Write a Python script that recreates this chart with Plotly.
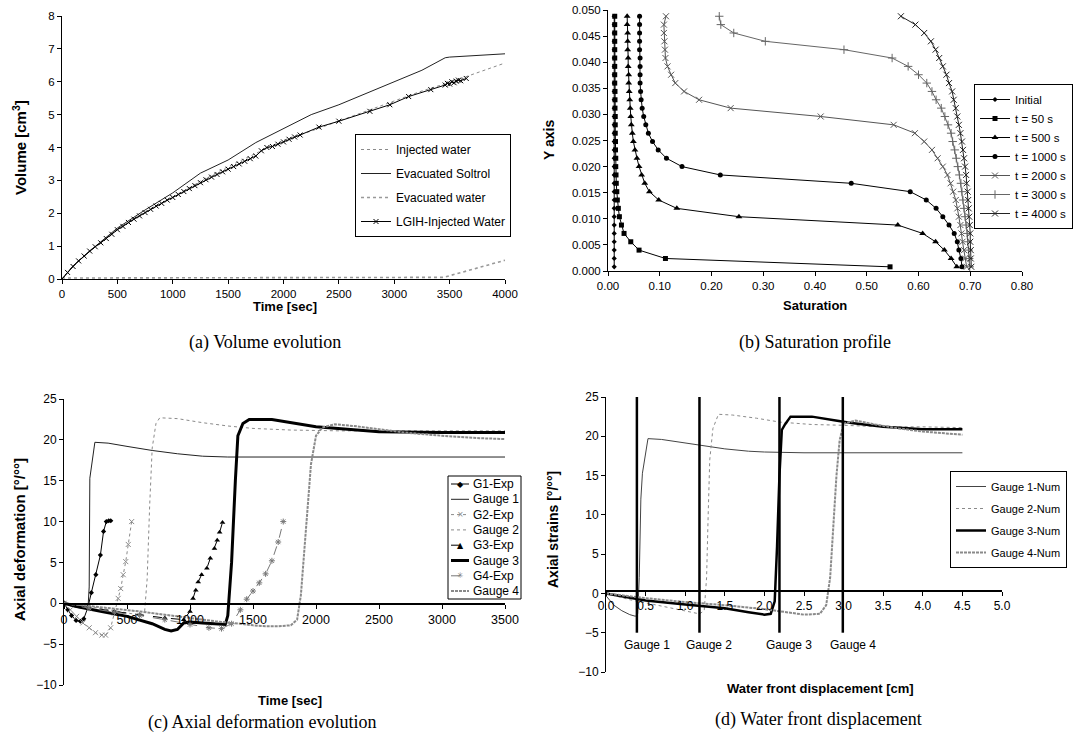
import plotly.graph_objects as go

W, H = 1084, 735
def px(x): return x / W
def py(y): return 1 - y / H

FONT = "Liberation Sans, Arial, sans-serif"
SERIF = "Liberation Serif, Times New Roman, serif"
SYM = "DejaVu Sans, sans-serif"

# ---------------- (a) Volume evolution ----------------
inj_t = [0, 100, 250, 500, 750, 1000, 1250, 1500, 1750, 2000, 2250, 2500, 2750, 3000, 3250, 3500, 3750, 4000]
inj_v = [0, 0.40, 0.86, 1.52, 2.02, 2.48, 2.98, 3.42, 3.82, 4.22, 4.50, 4.80, 5.10, 5.40, 5.72, 5.98, 6.27, 6.57]

sol_t = [0, 100, 250, 500, 750, 1000, 1250, 1500, 1750, 2000, 2250, 2500, 2750, 3000, 3250, 3460, 3500, 4000]
sol_v = [0, 0.40, 0.85, 1.55, 2.10, 2.62, 3.22, 3.62, 4.15, 4.58, 5.00, 5.30, 5.65, 6.00, 6.35, 6.73, 6.75, 6.85]

ew_t = [0, 500, 1000, 1500, 2000, 2500, 3000, 3450, 3500, 3750, 4000]
ew_v = [0.03, 0.03, 0.03, 0.03, 0.03, 0.03, 0.03, 0.05, 0.10, 0.33, 0.57]

lg_t = [0, 50, 100, 150, 200, 250, 300, 350, 400, 450, 500, 550, 600, 650, 700, 750, 800, 850, 900, 950,
        1000, 1050, 1100, 1150, 1200, 1250, 1300, 1350, 1400, 1450, 1500, 1550, 1600, 1650, 1700, 1750,
        1800, 1850, 1900, 1950, 2000, 2050, 2100, 2150, 2320, 2500, 2780, 2960, 3130, 3330, 3460, 3480,
        3500, 3520, 3540, 3560, 3580, 3600, 3650]
lg_v = [0, 0.20, 0.38, 0.55, 0.70, 0.85, 0.98, 1.10, 1.23, 1.36, 1.50, 1.60, 1.72, 1.82, 1.92, 2.02, 2.12, 2.22, 2.30, 2.40,
        2.48, 2.57, 2.66, 2.75, 2.84, 2.93, 3.02, 3.10, 3.18, 3.26, 3.34, 3.42, 3.50, 3.58, 3.66, 3.74,
        3.90, 4.00, 4.03, 4.10, 4.17, 4.25, 4.32, 4.38, 4.62, 4.80, 5.10, 5.30, 5.55, 5.76, 5.90, 5.95,
        5.93, 6.00, 5.97, 6.02, 6.05, 6.03, 6.10]

# ---------------- (b) Saturation profile ----------------
y_nodes = [0.0008, 0.0024, 0.0040, 0.0056, 0.0072, 0.0088, 0.0104, 0.0120, 0.0136, 0.0152, 0.0168,
           0.0184, 0.0200, 0.0216, 0.0232, 0.0248, 0.0264, 0.0280, 0.0296, 0.0312, 0.0328, 0.0344,
           0.0360, 0.0376, 0.0392, 0.0408, 0.0424, 0.0440, 0.0456, 0.0472, 0.0488]
s_initial = [0.012, 0.012, 0.012, 0.012, 0.012, 0.012, 0.012, 0.012, 0.012, 0.012, 0.012,
             0.012, 0.012, 0.012, 0.012, 0.012, 0.012, 0.012, 0.012, 0.012, 0.012, 0.012,
             0.012, 0.012, 0.012, 0.012, 0.012, 0.012, 0.012, 0.012, 0.012]
s_50 = [0.545, 0.111, 0.060, 0.044, 0.031, 0.026, 0.022, 0.020, 0.018, 0.017, 0.016,
        0.0155, 0.015, 0.015, 0.0145, 0.0145, 0.014, 0.014, 0.014, 0.0135, 0.0135, 0.0135,
        0.013, 0.013, 0.013, 0.013, 0.013, 0.013, 0.013, 0.013, 0.013]
s_500 = [0.674, 0.663, 0.650, 0.633, 0.608, 0.560, 0.253, 0.133, 0.098, 0.080, 0.071,
         0.065, 0.060, 0.056, 0.052, 0.049, 0.047, 0.045, 0.044, 0.043, 0.042, 0.041,
         0.040, 0.040, 0.039, 0.039, 0.038, 0.038, 0.038, 0.037, 0.037]
s_1000 = [0.684, 0.682, 0.678, 0.675, 0.669, 0.659, 0.647, 0.634, 0.615, 0.584, 0.470,
          0.217, 0.143, 0.113, 0.097, 0.086, 0.078, 0.073, 0.069, 0.066, 0.064, 0.063,
          0.062, 0.062, 0.062, 0.062, 0.061, 0.061, 0.061, 0.061, 0.061]
s_2000 = [0.693, 0.690, 0.688, 0.685, 0.683, 0.681, 0.678, 0.675, 0.672, 0.667, 0.662,
          0.656, 0.647, 0.637, 0.626, 0.611, 0.593, 0.552, 0.411, 0.237, 0.176, 0.147,
          0.130, 0.122, 0.115, 0.111, 0.110, 0.109, 0.108, 0.108, 0.112]
s_3000 = [0.699, 0.698, 0.697, 0.695, 0.694, 0.692, 0.690, 0.688, 0.686, 0.684, 0.682,
          0.679, 0.676, 0.673, 0.670, 0.666, 0.663, 0.657, 0.651, 0.644, 0.634, 0.626,
          0.616, 0.600, 0.580, 0.549, 0.456, 0.304, 0.243, 0.218, 0.215]
s_4000 = [0.702, 0.701, 0.701, 0.700, 0.700, 0.699, 0.698, 0.697, 0.696, 0.695, 0.693,
          0.692, 0.690, 0.688, 0.686, 0.684, 0.681, 0.678, 0.675, 0.672, 0.668, 0.665,
          0.659, 0.654, 0.647, 0.640, 0.633, 0.624, 0.611, 0.594, 0.566]

# ---------------- (c) Axial deformation evolution ----------------
g1e_t = [0, 30, 60, 96, 130, 157, 190, 217, 253, 289, 314, 336, 355, 371]
g1e_v = [0, -0.8, -1.5, -2.1, -2.2, -1.9, -0.5, 1.3, 3.5, 5.9, 8.8, 10.0, 10.1, 10.1]
g1n_t = [0, 50, 100, 150, 190, 200, 205, 245, 350, 500, 700, 900, 1100, 1300, 1500, 2000, 2500, 3000, 3500]
g1n_v = [0, -0.3, -0.5, -0.6, -0.7, 2.0, 15.3, 19.7, 19.6, 19.2, 18.7, 18.3, 18.0, 17.9, 17.9, 17.9, 17.9, 17.9, 17.9]
g2e_t = [0, 50, 100, 150, 200, 250, 300, 330, 370, 400, 430, 450, 470, 490, 510, 537]
g2e_v = [0, -0.8, -1.6, -2.4, -3.0, -3.6, -3.9, -3.9, -3.0, -1.2, 0.6, 1.8, 3.5, 5.1, 7.2, 10.0]
g2n_t = [0, 200, 400, 550, 620, 640, 660, 680, 700, 730, 760, 900, 1100, 1300, 1500, 1800, 2200, 2600, 3000, 3500]
g2n_v = [0, -0.4, -0.9, -1.3, -1.5, -1.0, 3.0, 12.0, 19.0, 22.0, 22.7, 22.6, 22.1, 21.7, 21.4, 21.2, 21.1, 21.1, 21.1, 21.1]
g3e_t = [0, 200, 400, 600, 800, 950, 1000, 1024, 1046, 1065, 1092, 1134, 1161, 1194, 1216, 1235, 1258]
g3e_v = [0, -0.5, -1.0, -1.4, -1.8, -2.0, -1.0, 0.6, 1.6, 2.6, 3.5, 4.3, 5.5, 6.7, 7.7, 8.7, 9.9]
g3n_t = [0, 100, 300, 500, 700, 800, 850, 900, 950, 1000, 1100, 1200, 1280, 1300, 1330, 1360, 1380, 1420, 1470, 1650,
         1800, 2000, 2250, 2500, 3000, 3500]
g3n_v = [0, -0.4, -1.0, -1.6, -2.5, -3.2, -3.4, -3.2, -2.4, -2.3, -2.4, -2.5, -2.6, -1.5, 5.0, 15.0, 20.5, 22.0, 22.5, 22.5,
         22.1, 21.6, 21.3, 21.0, 20.9, 20.9]
g4e_t = [0, 200, 400, 600, 800, 1000, 1150, 1250, 1330, 1400, 1450, 1500, 1550, 1600, 1650, 1700, 1740]
g4e_v = [0, -0.6, -1.1, -1.5, -2.0, -2.6, -3.0, -3.1, -2.5, -0.8, 0.5, 1.5, 2.5, 3.6, 5.2, 7.5, 10.0]
g4n_t = [0, 300, 600, 900, 1200, 1400, 1500, 1600, 1700, 1800, 1850, 1880, 1900, 1930, 1960, 2000, 2050, 2150,
         2300, 2500, 2700, 3000, 3300, 3500]
g4n_v = [0, -0.5, -1.0, -1.6, -2.2, -2.5, -2.7, -2.8, -2.8, -2.7, -2.0, 1.0, 5.0, 12.0, 17.0, 20.5, 21.5, 21.9,
         21.7, 21.3, 20.9, 20.5, 20.2, 20.1]

# ---------------- (d) Water front displacement ----------------
d1_x = [0, 0.1, 0.2, 0.3, 0.37, 0.40, 0.42, 0.44, 0.46, 0.53, 0.7, 0.9, 1.15, 1.5, 1.8, 2.0, 2.5, 3.0, 3.5, 4.0, 4.5]
d1_y = [-0.3, -1.5, -2.2, -2.7, -2.9, -2.6, 2.0, 12.0, 15.3, 19.7, 19.6, 19.3, 18.9, 18.4, 18.1, 18.0, 17.9, 17.9, 17.9, 17.9, 17.9]
d2_x = [0, 0.3, 0.6, 0.9, 1.18, 1.24, 1.27, 1.29, 1.31, 1.35, 1.42, 1.6, 1.9, 2.2, 2.6, 3.0, 3.5, 4.0, 4.5]
d2_y = [0, -0.8, -1.4, -2.0, -2.6, -2.2, 2.0, 10.0, 17.0, 21.0, 22.8, 22.7, 22.3, 21.8, 21.5, 21.4, 21.2, 21.2, 21.1]
d3_x = [0, 0.5, 1.0, 1.5, 1.8, 2.0, 2.08, 2.13, 2.16, 2.19, 2.22, 2.26, 2.33, 2.6, 2.9, 3.1, 3.5, 4.0, 4.5]
d3_y = [0, -0.9, -1.4, -1.9, -2.4, -2.7, -2.6, -1.0, 6.0, 15.0, 20.8, 21.5, 22.5, 22.5, 22.0, 21.7, 21.2, 20.9, 20.9]
d4_x = [0, 0.5, 1.0, 1.5, 2.0, 2.3, 2.5, 2.7, 2.78, 2.83, 2.87, 2.91, 2.95, 3.0, 3.15, 3.4, 3.7, 4.0, 4.5]
d4_y = [0, -0.6, -1.1, -1.5, -2.0, -2.4, -2.7, -2.6, -1.5, 2.0, 8.0, 15.0, 19.5, 21.6, 22.0, 21.5, 21.0, 20.6, 20.2]
gauge_pos = [0.39, 1.18, 2.19, 2.99]
gauge_lbl = ["Gauge 1", "Gauge 2", "Gauge 3", "Gauge 4"]

# ---------------- layout boxes (pixels) ----------------
BOX = {
    "a": dict(x0=62, x1=505, y0=16, y1=279),
    "b": dict(x0=608, x1=1022, y0=10, y1=271),
    "c": dict(x0=64, x1=505, y0=399, y1=685, zero=604),
    "d": dict(x0=606, x1=1002, y0=397, y1=672, zero=591),
}

fig = go.Figure()
BLK = "#000000"
GRY = "#8a8a8a"

def add(x, y, name, xa, ya, leg, color=BLK, width=1, dash="solid", mode="lines", symbol=None, msize=5,
        mopen=False, show=True):
    marker = None
    if symbol:
        if mopen:
            marker = dict(symbol=symbol, size=msize, color=color, line=dict(width=1, color=color))
        else:
            marker = dict(symbol=symbol, size=msize, color=color, line=dict(width=0))
    kw = dict(x=x, y=y, name=name, xaxis=xa, yaxis=ya, mode=mode,
              line=dict(color=color, width=width, dash=dash), marker=marker, showlegend=show)
    if show:
        kw["legend"] = leg
        kw["legendgroup"] = leg + name
    fig.add_trace(go.Scatter(**kw))

# (a)
add(inj_t, inj_v, "Injected water", "x", "y", "legend", color=GRY, width=1, dash="dot")
add(sol_t, sol_v, "Evacuated Soltrol", "x", "y", "legend", color="#222222", width=1)
add(ew_t, ew_v, "Evacuated water", "x", "y", "legend", color="#999999", width=1.6, dash="dot")
add(lg_t, lg_v, "LGIH-Injected Water", "x", "y", "legend", color=BLK, width=1, mode="lines+markers",
    symbol="x-thin", msize=5, mopen=True)

# (b)
add(s_initial, y_nodes, "Initial", "x2", "y2", "legend2", color=BLK, width=1, mode="lines+markers", symbol="diamond", msize=4)
add(s_50, y_nodes, "t = 50 s", "x2", "y2", "legend2", color=BLK, width=1, mode="lines+markers", symbol="square", msize=5)
add(s_500, y_nodes, "t = 500 s", "x2", "y2", "legend2", color=BLK, width=1, mode="lines+markers", symbol="triangle-up", msize=6)
add(s_1000, y_nodes, "t = 1000 s", "x2", "y2", "legend2", color=BLK, width=1, mode="lines+markers", symbol="circle", msize=5)
add(s_2000, y_nodes, "t = 2000 s", "x2", "y2", "legend2", color="#555555", width=1, mode="lines+markers", symbol="x-thin", msize=6, mopen=True)
add(s_3000, y_nodes, "t = 3000 s", "x2", "y2", "legend2", color="#666666", width=1, mode="lines+markers", symbol="cross-thin", msize=6, mopen=True)
add(s_4000, y_nodes, "t = 4000 s", "x2", "y2", "legend2", color="#222222", width=1, mode="lines+markers", symbol="x-thin", msize=6, mopen=True)

# (c) -- legend drawn as a compact box below (native legend rows are too tall)
C_STYLE = [
    ("G1-Exp", BLK, 1, "solid", "◆"),
    ("Gauge 1", "#222222", 1, "solid", ""),
    ("G2-Exp", GRY, 1, "dot", "×"),
    ("Gauge 2", GRY, 1, "dot", ""),
    ("G3-Exp", BLK, 1, "dash", "▲"),
    ("Gauge 3", BLK, 3, "solid", ""),
    ("G4-Exp", "#777777", 1, "dash", "✳"),
    ("Gauge 4", GRY, 2, "3px,1px", ""),
]
add(g1e_t, g1e_v, "G1-Exp", "x3", "y3", None, color=BLK, width=1, mode="lines+markers", symbol="diamond", msize=4, show=False)
add(g1n_t, g1n_v, "Gauge 1", "x3", "y3", None, color="#222222", width=1, show=False)
add(g2e_t, g2e_v, "G2-Exp", "x3", "y3", None, color=GRY, width=1, dash="dot", mode="lines+markers", symbol="x-thin", msize=5, mopen=True, show=False)
add(g2n_t, g2n_v, "Gauge 2", "x3", "y3", None, color=GRY, width=1, dash="dot", show=False)
add(g3e_t, g3e_v, "G3-Exp", "x3", "y3", None, color=BLK, width=1, dash="dash", mode="lines+markers", symbol="triangle-up", msize=5, show=False)
add(g3n_t, g3n_v, "Gauge 3", "x3", "y3", None, color=BLK, width=3, show=False)
add(g4e_t, g4e_v, "G4-Exp", "x3", "y3", None, color="#777777", width=1, dash="dash", mode="lines+markers", symbol="asterisk-open", msize=5, mopen=True, show=False)
add(g4n_t, g4n_v, "Gauge 4", "x3", "y3", None, color=GRY, width=2, dash="3px,1px", show=False)

# (d)
add(d1_x, d1_y, "Gauge 1-Num", "x4", "y4", "legend4", color="#444444", width=1)
add(d2_x, d2_y, "Gauge 2-Num", "x4", "y4", "legend4", color=GRY, width=1, dash="dot")
add(d3_x, d3_y, "Gauge 3-Num", "x4", "y4", "legend4", color=BLK, width=2.5)
add(d4_x, d4_y, "Gauge 4-Num", "x4", "y4", "legend4", color=GRY, width=2, dash="3px,1px")

def axis(rng, dtick, dom, fmt=None, fsize=11.5, **kw):
    d = dict(range=rng, dtick=dtick, tick0=rng[0], domain=dom, showline=True, linecolor=BLK, linewidth=1,
             ticks="outside", ticklen=4, tickcolor=BLK, tickwidth=1, showgrid=False, zeroline=False,
             tickfont=dict(family=FONT, size=fsize, color=BLK), fixedrange=True)
    if fmt:
        d["tickformat"] = fmt
    d.update(kw)
    return d

A, B, C, D = BOX["a"], BOX["b"], BOX["c"], BOX["d"]
fig.update_layout(
    xaxis=axis([0, 4000], 500, [px(A["x0"]), px(A["x1"])], anchor="y"),
    yaxis=axis([0, 8], 1, [py(A["y1"]), py(A["y0"])], anchor="x"),
    xaxis2=axis([0, 0.8], 0.1, [px(B["x0"]), px(B["x1"])], fmt=".2f", anchor="y2"),
    yaxis2=axis([0, 0.05], 0.005, [py(B["y1"]), py(B["y0"])], fmt=".3f", anchor="x2"),
    xaxis3=axis([0, 3500], 500, [px(C["x0"]), px(C["x1"])], fsize=12.5, anchor="free",
                position=py(C["zero"]), linewidth=1.5),
    yaxis3=axis([-10, 25], 5, [py(C["y1"]), py(C["y0"])], fsize=12, anchor="x3"),
    xaxis4=axis([0, 5], 0.5, [px(D["x0"]), px(D["x1"])], fmt=".1f", fsize=12, anchor="free",
                position=py(D["zero"]), linewidth=1.5),
    yaxis4=axis([-10, 25], 5, [py(D["y1"]), py(D["y0"])], fsize=12, anchor="x4"),
)

def legend(x, y, gap, size=12):
    return dict(x=px(x), y=py(y), xanchor="left", yanchor="top", bgcolor="white", bordercolor=BLK,
                borderwidth=1, font=dict(family=FONT, size=size, color=BLK), traceorder="grouped",
                tracegroupgap=gap, itemwidth=30)

fig.update_layout(
    legend=legend(355, 134, 5),
    legend2=legend(974, 84, 0, size=11.5),
    legend4=legend(950, 471, 3, size=11),
)

# compact legend box for (c)
LX0, LX1, LY0, LY1 = 448, 521, 476, 599
fig.add_shape(type="rect", xref="paper", yref="paper", x0=px(LX0), x1=px(LX1), y0=py(LY1), y1=py(LY0),
              line=dict(color=BLK, width=1), fillcolor="white", layer="above")
for i, (nm, col, wd, ds, glyph) in enumerate(C_STYLE):
    yy = 484 + i * 15.3
    fig.add_shape(type="line", xref="paper", yref="paper", x0=px(451), x1=px(469), y0=py(yy), y1=py(yy),
                  line=dict(color=col, width=wd, dash=ds), layer="above")
    if glyph:
        fig.add_annotation(x=px(460), y=py(yy), xref="paper", yref="paper", text=glyph, showarrow=False,
                           xanchor="center", yanchor="middle", font=dict(family=SYM, size=8, color=col))
    fig.add_annotation(x=px(471), y=py(yy), xref="paper", yref="paper", text=nm, showarrow=False,
                       xanchor="left", yanchor="middle", font=dict(family=FONT, size=12, color=BLK))

# gauge marker lines in (d)
for gp, gl in zip(gauge_pos, gauge_lbl):
    fig.add_shape(type="line", xref="x4", yref="y4", x0=gp, x1=gp, y0=-5, y1=25,
                  line=dict(color=BLK, width=2.5))
    fig.add_annotation(x=gp, y=-6.6, xref="x4", yref="y4", text=gl, showarrow=False, xshift=10,
                       font=dict(family=FONT, size=12, color=BLK))

def ann(text, x, y, size=13, bold=True, angle=0, family=FONT):
    fig.add_annotation(x=px(x), y=py(y), xref="paper", yref="paper", text=("<b>%s</b>" % text) if bold else text,
                       showarrow=False, textangle=angle, xanchor="center", yanchor="middle",
                       font=dict(family=family, size=size, color=BLK))

ann("Volume [cm<sup>3</sup>]", 19, 148, size=15, angle=-90)
ann("Time [sec]", 285, 306)
ann("(a) Volume evolution", 265, 342, size=18, bold=False, family=SERIF)
ann("Y axis", 549, 140, size=14, angle=-90)
ann("Saturation", 815, 305)
ann("(b) Saturation profile", 815, 342, size=18, bold=False, family=SERIF)
ann("Axial deformation [°/°°]", 19, 540, size=15, angle=-90)
ann("Time [sec]", 290, 700)
ann("(c) Axial deformation evolution", 262, 722, size=18, bold=False, family=SERIF)
ann("Axial strains [°/°°]", 553, 530, size=14, angle=-90)
ann("Water front displacement [cm]", 820, 688)
ann("(d) Water front displacement", 818, 719, size=18, bold=False, family=SERIF)

fig.update_layout(width=W, height=H, margin=dict(l=0, r=0, t=0, b=0), template="none",
                  paper_bgcolor="white", plot_bgcolor="white", showlegend=True,
                  font=dict(family=FONT, color=BLK))

fig.write_html("out.html")
